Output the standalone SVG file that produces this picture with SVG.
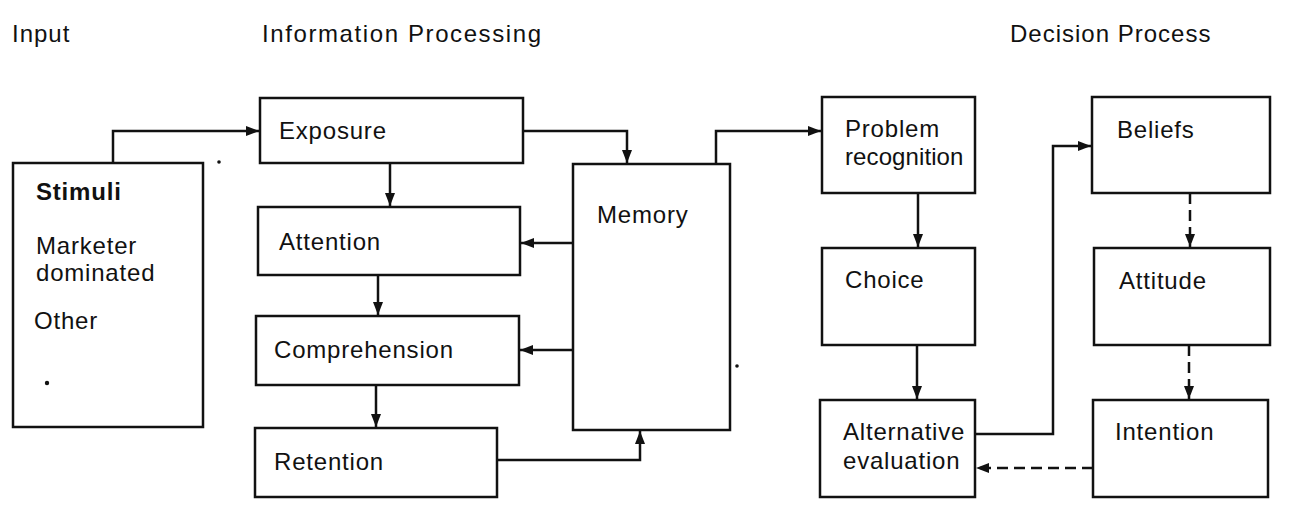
<svg xmlns="http://www.w3.org/2000/svg" width="1304" height="517" viewBox="0 0 1304 517">
<style>
  .box { fill: #fff; stroke: #111; stroke-width: 2.5; }
  .t { font-family: "Liberation Sans", Arial, sans-serif; font-size: 24px; fill: #111; letter-spacing: 0.8px; }
  .h { font-family: "Liberation Sans", Arial, sans-serif; font-size: 24px; fill: #111; letter-spacing: 1px; }
  .b { font-weight: bold; }
  .c { fill: none; stroke: #111; stroke-width: 2.5; }
  .d { fill: none; stroke: #111; stroke-width: 2.5; stroke-dasharray: 11 6; }
</style>
<defs>
  <marker id="ah" viewBox="0 0 13 10" refX="13" refY="5" markerWidth="13" markerHeight="10" markerUnits="userSpaceOnUse" orient="auto">
    <path d="M0,0 L13,5 L0,10 Z" fill="#111"/>
  </marker>
</defs>
<rect width="1304" height="517" fill="#fff"/>

<g id="headers">
  <text class="h" x="12" y="42">Input</text>
  <text class="h" x="262" y="42" style="letter-spacing:1.6px">Information Processing</text>
  <text class="h" x="1010" y="42">Decision Process</text>
</g>

<g id="stimuli">
  <rect class="box" x="13" y="163" width="190" height="264"/>
  <text class="t b" x="36" y="200">Stimuli</text>
  <text class="t" x="36" y="254">Marketer</text>
  <text class="t" x="36" y="281">dominated</text>
  <text class="t" x="34" y="329">Other</text>
  <circle cx="47" cy="383" r="2.2" fill="#111"/>
</g>

<g id="exposure">
  <rect class="box" x="260" y="98" width="263" height="65"/>
  <text class="t" x="279" y="139">Exposure</text>
</g>
<g id="attention">
  <rect class="box" x="258" y="207" width="262" height="68"/>
  <text class="t" x="279" y="250">Attention</text>
</g>
<g id="comprehension">
  <rect class="box" x="256" y="316" width="263" height="69"/>
  <text class="t" x="274" y="358">Comprehension</text>
</g>
<g id="retention">
  <rect class="box" x="255" y="428" width="242" height="69"/>
  <text class="t" x="274" y="470">Retention</text>
</g>
<g id="memory">
  <rect class="box" x="573" y="164" width="157" height="266"/>
  <text class="t" x="597" y="223">Memory</text>
</g>

<g id="problem-recognition">
  <rect class="box" x="822" y="97" width="153" height="96"/>
  <text class="t" x="845" y="137">Problem</text>
  <text class="t" x="845" y="165" style="letter-spacing:0.1px">recognition</text>
</g>
<g id="choice">
  <rect class="box" x="822" y="248" width="153" height="97"/>
  <text class="t" x="845" y="288">Choice</text>
</g>
<g id="alternative-evaluation">
  <rect class="box" x="820" y="400" width="155" height="97"/>
  <text class="t" x="843" y="440">Alternative</text>
  <text class="t" x="843" y="469">evaluation</text>
</g>
<g id="beliefs">
  <rect class="box" x="1092" y="97" width="178" height="96"/>
  <text class="t" x="1117" y="138">Beliefs</text>
</g>
<g id="attitude">
  <rect class="box" x="1094" y="248" width="176" height="97"/>
  <text class="t" x="1119" y="289">Attitude</text>
</g>
<g id="intention">
  <rect class="box" x="1093" y="400" width="175" height="97"/>
  <text class="t" x="1115" y="440">Intention</text>
</g>

<g id="connectors">
  <path class="c" d="M113,163 V131 H259" marker-end="url(#ah)"/>
  <path class="c" d="M523,131 H627 V163" marker-end="url(#ah)"/>
  <path class="c" d="M390,163 V206" marker-end="url(#ah)"/>
  <path class="c" d="M573,243 H521" marker-end="url(#ah)"/>
  <path class="c" d="M378,275 V315" marker-end="url(#ah)"/>
  <path class="c" d="M573,350 H520" marker-end="url(#ah)"/>
  <path class="c" d="M376,385 V427" marker-end="url(#ah)"/>
  <path class="c" d="M497,460 H640 V431" marker-end="url(#ah)"/>
  <path class="c" d="M716,164 V131 H821" marker-end="url(#ah)"/>
  <path class="c" d="M918,193 V247" marker-end="url(#ah)"/>
  <path class="c" d="M917,345 V399" marker-end="url(#ah)"/>
  <path class="c" d="M975,434 H1053 V146 H1091" marker-end="url(#ah)"/>
  <path class="d" d="M1190,193 V247" marker-end="url(#ah)"/>
  <path class="d" d="M1189,345 V399" marker-end="url(#ah)"/>
  <path class="d" d="M1093,468 H976" marker-end="url(#ah)"/>
</g>

<g id="specks">
  <circle cx="219" cy="162" r="1.8" fill="#111"/>
  <circle cx="737" cy="366" r="1.8" fill="#111"/>
</g>
</svg>
